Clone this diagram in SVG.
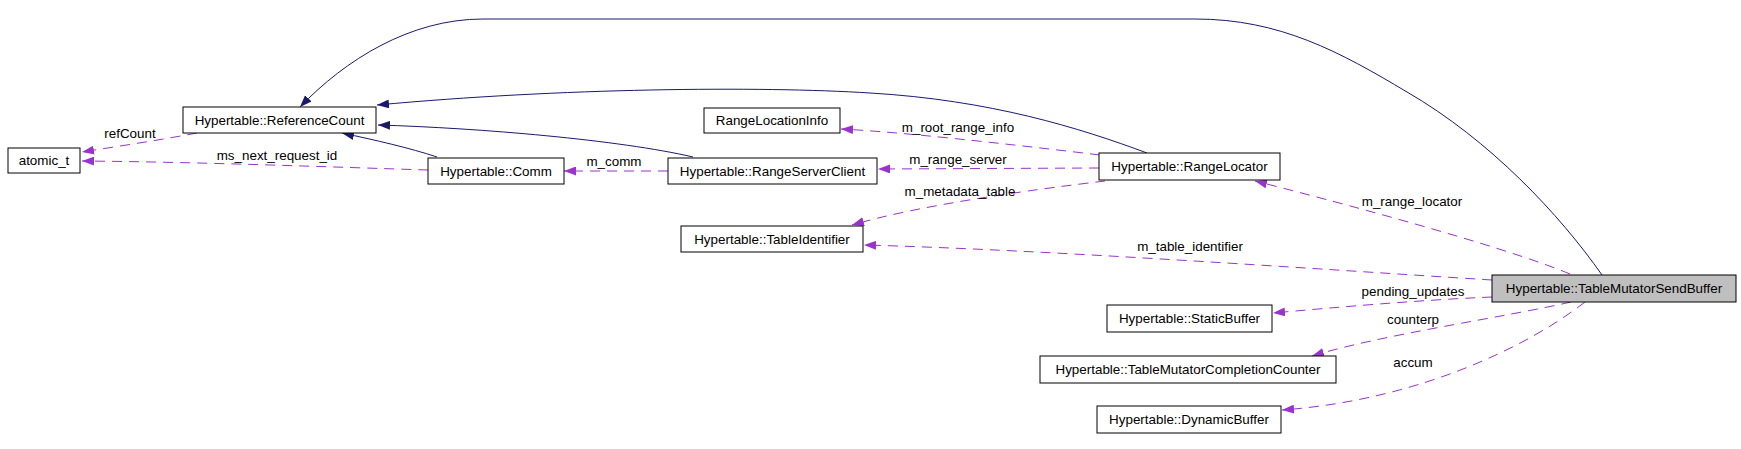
<svg xmlns="http://www.w3.org/2000/svg" width="1741" height="449" viewBox="0 0 1741 449">
<style>
.box{fill:#ffffff;stroke:#000000;stroke-width:1}
.sel{fill:#bfbfbf;stroke:#000000;stroke-width:1}
.t{font-family:"Liberation Sans",Arial,sans-serif;font-size:13.4px;fill:#000000;text-anchor:middle}
.inh{fill:none;stroke:#191970;stroke-width:1}
.mem{fill:none;stroke:#9a32cd;stroke-width:1;stroke-dasharray:10,7}
</style>
<defs>
<marker id="an" viewBox="0 0 12 9" refX="12" refY="4.5" markerWidth="12" markerHeight="9" markerUnits="userSpaceOnUse" orient="auto"><path d="M0,0 L12,4.5 L0,9 z" fill="#191970"/></marker>
<marker id="ap" viewBox="0 0 12 9" refX="12" refY="4.5" markerWidth="12" markerHeight="9" markerUnits="userSpaceOnUse" orient="auto"><path d="M0,0 L12,4.5 L0,9 z" fill="#9a32cd"/></marker>
</defs>
<rect width="1741" height="449" fill="#ffffff"/>
<g id="edges">
<path class="inh" marker-end="url(#an)" d="M1602,275 C1560,215 1490,140 1407,92 C1340,52 1280,19 1195,19 L483,19 C410,19 345,60 300,107"/>
<path class="inh" marker-end="url(#an)" d="M1147,153 C1080,128 990,100 870,93 C760,86 560,88 377,105"/>
<path class="inh" marker-end="url(#an)" d="M693,157 C620,140 480,128 378,125"/>
<path class="inh" marker-end="url(#an)" d="M437,157 C410,148 375,140 342,133"/>
<path class="mem" marker-end="url(#ap)" d="M197,133 C160,140 120,146 82,152"/>
<text class="t" x="130" y="138">refCount</text>
<path class="mem" marker-end="url(#ap)" d="M428,170 C330,167 200,162 82,161"/>
<text class="t" x="277" y="160">ms_next_request_id</text>
<path class="mem" marker-end="url(#ap)" d="M668,171 L564,171"/>
<text class="t" x="614" y="166">m_comm</text>
<path class="mem" marker-end="url(#ap)" d="M1100,155 C1000,143 900,132 841,129"/>
<text class="t" x="958" y="132">m_root_range_info</text>
<path class="mem" marker-end="url(#ap)" d="M1099,168 L878,169"/>
<text class="t" x="958" y="164">m_range_server</text>
<path class="mem" marker-end="url(#ap)" d="M1105,181 C1030,190 920,205 852,225"/>
<text class="t" x="960" y="196">m_metadata_table</text>
<path class="mem" marker-end="url(#ap)" d="M1492,280 C1300,268 1050,250 864,245"/>
<text class="t" x="1190" y="251">m_table_identifier</text>
<path class="mem" marker-end="url(#ap)" d="M1570,274 C1500,245 1330,200 1255,181"/>
<text class="t" x="1412" y="206">m_range_locator</text>
<path class="mem" marker-end="url(#ap)" d="M1492,297 C1420,300 1340,307 1273,313"/>
<text class="t" x="1413" y="296">pending_updates</text>
<path class="mem" marker-end="url(#ap)" d="M1571,302 C1500,318 1380,335 1312,356"/>
<text class="t" x="1413" y="324">counterp</text>
<path class="mem" marker-end="url(#ap)" d="M1585,302 C1530,345 1420,400 1282,410"/>
<text class="t" x="1413" y="367">accum</text>
</g>
<g id="n_TableMutatorSendBuffer"><rect class="sel" x="1492" y="275" width="244" height="27"/><text class="t" x="1614" y="293">Hypertable::TableMutatorSendBuffer</text></g>
<g id="n_ReferenceCount"><rect class="box" x="183" y="107" width="193" height="26"/><text class="t" x="279.5" y="124.7">Hypertable::ReferenceCount</text></g>
<g id="n_atomic_t"><rect class="box" x="8" y="148" width="72" height="25"/><text class="t" x="44" y="165">atomic_t</text></g>
<g id="n_Comm"><rect class="box" x="428" y="158" width="136" height="26"/><text class="t" x="496" y="175.7">Hypertable::Comm</text></g>
<g id="n_RangeServerClient"><rect class="box" x="668" y="158" width="209" height="26"/><text class="t" x="772.5" y="175.7">Hypertable::RangeServerClient</text></g>
<g id="n_RangeLocationInfo"><rect class="box" x="704" y="108" width="136" height="25"/><text class="t" x="772" y="125.2">RangeLocationInfo</text></g>
<g id="n_RangeLocator"><rect class="box" x="1099" y="153" width="181" height="27"/><text class="t" x="1189.5" y="171.2">Hypertable::RangeLocator</text></g>
<g id="n_TableIdentifier"><rect class="box" x="681" y="226" width="182" height="26"/><text class="t" x="772" y="243.7">Hypertable::TableIdentifier</text></g>
<g id="n_StaticBuffer"><rect class="box" x="1107" y="305" width="165" height="27"/><text class="t" x="1189.5" y="323.2">Hypertable::StaticBuffer</text></g>
<g id="n_TableMutatorCompletionCounter"><rect class="box" x="1040" y="356" width="296" height="27"/><text class="t" x="1188" y="374.2">Hypertable::TableMutatorCompletionCounter</text></g>
<g id="n_DynamicBuffer"><rect class="box" x="1097" y="406" width="184" height="27"/><text class="t" x="1189" y="424.2">Hypertable::DynamicBuffer</text></g>
</svg>
